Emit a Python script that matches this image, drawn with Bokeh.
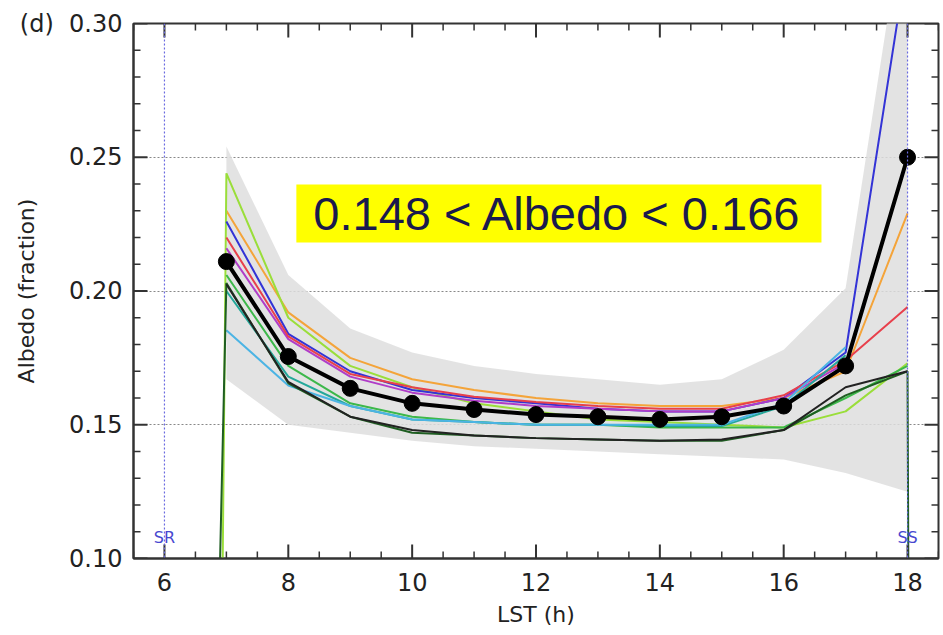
import math
from bokeh.plotting import figure
from bokeh.models import FixedTicker, Span, Label, BoxAnnotation, Range1d
from bokeh.embed import file_html
from bokeh.resources import INLINE

# ---------------- data ----------------
hours = [7, 8, 9, 10, 11, 12, 13, 14, 15, 16, 17, 18]
mean_albedo = [0.211, 0.1755, 0.1636, 0.158, 0.1557, 0.1538, 0.153, 0.152, 0.153, 0.157, 0.172, 0.250]
band_upper = [0.254, 0.206, 0.186, 0.177, 0.172, 0.169, 0.167, 0.165, 0.167, 0.178, 0.201, 0.350]
band_lower = [0.167, 0.150, 0.147, 0.144, 0.142, 0.141, 0.140, 0.139, 0.138, 0.137, 0.132, 0.125]

series = {
    "orange":     ([7, 8, 9, 10, 11, 12, 13, 14, 15, 16, 17, 18],
                   [0.230, 0.192, 0.175, 0.167, 0.163, 0.160, 0.158, 0.157, 0.157, 0.160, 0.170, 0.229]),
    "lime":       ([6.9, 7, 8, 9, 10, 11, 12, 13, 14, 15, 16, 17, 18],
                   [0.0, 0.244, 0.190, 0.172, 0.164, 0.158, 0.155, 0.152, 0.151, 0.150, 0.149, 0.155, 0.173]),
    "blue":       ([7, 8, 9, 10, 11, 12, 13, 14, 15, 16, 17, 18],
                   [0.226, 0.184, 0.170, 0.163, 0.160, 0.158, 0.156, 0.155, 0.155, 0.160, 0.177, 0.325]),
    "magenta":    ([7, 8, 9, 10, 11, 12, 13, 14, 15, 16, 17],
                   [0.216, 0.182, 0.168, 0.162, 0.159, 0.157, 0.156, 0.155, 0.155, 0.160, 0.173]),
    "red":        ([7, 8, 9, 10, 11, 12, 13, 14, 15, 16, 17, 18],
                   [0.220, 0.183, 0.169, 0.164, 0.1605, 0.1585, 0.157, 0.156, 0.156, 0.161, 0.174, 0.194]),
    "green":      ([7, 8, 9, 10, 11, 12, 13, 14, 15, 16, 17, 18],
                   [0.206, 0.172, 0.158, 0.153, 0.151, 0.150, 0.150, 0.149, 0.149, 0.149, 0.160, 0.172]),
    "teal":       ([7, 8, 9, 10, 11, 12, 13, 14, 15, 16, 17],
                   [0.200, 0.168, 0.157, 0.152, 0.151, 0.150, 0.150, 0.1495, 0.1495, 0.157, 0.176]),
    "cyan":       ([7, 8, 9, 10, 11, 12, 13, 14, 15, 16, 17],
                   [0.1853, 0.1647, 0.157, 0.152, 0.151, 0.150, 0.150, 0.150, 0.150, 0.158, 0.179]),
    "darkgreen":  ([6.8, 7, 8, 9, 10, 11, 12, 13, 14, 15, 16, 17, 18, 18.03],
                   [0.0, 0.203, 0.1655, 0.153, 0.147, 0.146, 0.145, 0.1445, 0.144, 0.144, 0.148, 0.161, 0.170, 0.0]),
    "blackthin":  ([7, 8, 9, 10, 11, 12, 13, 14, 15, 16, 17, 18],
                   [0.2025, 0.166, 0.153, 0.148, 0.146, 0.145, 0.1445, 0.144, 0.1445, 0.148, 0.164, 0.170]),
}
series_colors = {
    "orange": "#f4a43a", "lime": "#9ade3a", "blue": "#3333d6", "magenta": "#b03cc8",
    "red": "#e8404c", "green": "#3cb84a", "teal": "#25a89a", "cyan": "#4cb4e4",
    "darkgreen": "#1f5e22", "blackthin": "#222222",
}

x_ticks = [6, 8, 10, 12, 14, 16, 18]
x_tick_labels = ["6", "8", "10", "12", "14", "16", "18"]
y_ticks = [0.10, 0.15, 0.20, 0.25, 0.30]
y_tick_labels = ["0.10", "0.15", "0.20", "0.25", "(d)\u00a0\u00a00.30"]
sunrise, sunset = 6, 18
annotation_text = "0.148 < Albedo < 0.166"

X0, X1, Y0, Y1 = 5.5, 18.5, 0.10, 0.30

# ---------------- figure ----------------
p = figure(frame_width=805, frame_height=535,
           min_border_left=133, min_border_right=5, min_border_top=23, min_border_bottom=77,
           x_range=Range1d(X0, X1), y_range=Range1d(Y0, Y1),
           output_backend="svg", toolbar_location=None,
           background_fill_color="white", border_fill_color="white")

p.outline_line_color = "#333333"
p.outline_line_width = 2
p.xgrid.visible = False
p.ygrid.grid_line_color = "#888888"
p.ygrid.grid_line_dash = "2 2"
p.ygrid.grid_line_width = 1.2

x_minor = [X0 + 0.5 * i for i in range(27)]
y_minor = [round(Y0 + 0.01 * i, 2) for i in range(21)]
xt = FixedTicker(ticks=x_ticks, minor_ticks=x_minor)
yt = FixedTicker(ticks=y_ticks, minor_ticks=y_minor)
p.xaxis.ticker = xt
p.yaxis.ticker = yt
p.ygrid.ticker = yt
p.xaxis.major_label_overrides = dict(zip(x_ticks, x_tick_labels))
p.yaxis.major_label_overrides = dict(zip(y_ticks, y_tick_labels))

p.xaxis.axis_label = "LST (h)"
p.yaxis.axis_label = "Albedo (fraction)"

for ax in p.xaxis + p.yaxis:
    ax.axis_line_width = 2
    ax.axis_line_color = "#333333"
    ax.major_tick_in = 0
    ax.major_tick_out = 0
    ax.minor_tick_in = 0
    ax.minor_tick_out = 0
    ax.major_label_text_font = "DejaVu Sans"
    ax.major_label_text_font_size = "24px"
    ax.major_label_text_color = "#222222"
    ax.axis_label_text_font = "DejaVu Sans"
    ax.axis_label_text_font_size = "22px"
    ax.axis_label_text_font_style = "normal"
    ax.axis_label_text_color = "#222222"
p.xaxis.major_label_standoff = 14
p.xaxis.axis_label_standoff = 8
p.yaxis.major_label_standoff = 11
p.yaxis.axis_label_standoff = -22

# gray band
p.varea(x=hours, y1=band_lower, y2=band_upper, fill_color="#dedede", fill_alpha=0.85)

# sunrise / sunset
for xv in (sunrise, sunset):
    p.add_layout(Span(location=xv, dimension="height", line_color="#6a6ae0",
                      line_dash="2 2", line_width=1.2))

# colored lines
for name, (xs, ys) in series.items():
    p.line(xs, ys, line_color=series_colors[name], line_width=2)

# mean line with dots
p.line(hours, mean_albedo, line_color="black", line_width=4)
p.scatter(hours, mean_albedo, size=16, fill_color="black", line_color="black")

# inward ticks on all four sides (dash markers, half clipped by the frame)
tick_col = "#333333"
xmaj = list(x_ticks)
xmin_ = [t for t in x_minor if t not in x_ticks]
ymaj = list(y_ticks)
ymin_ = [t for t in y_minor if t not in y_ticks]
for edge in (Y0, Y1):
    p.scatter(xmaj, [edge] * len(xmaj), marker="dash", size=28, angle=math.pi / 2,
              line_color=tick_col, line_width=2)
    p.scatter(xmin_, [edge] * len(xmin_), marker="dash", size=14, angle=math.pi / 2,
              line_color=tick_col, line_width=1.5)
for edge in (X0, X1):
    p.scatter([edge] * len(ymaj), ymaj, marker="dash", size=28,
              line_color=tick_col, line_width=2)
    p.scatter([edge] * len(ymin_), ymin_, marker="dash", size=14,
              line_color=tick_col, line_width=1.5)

# SR / SS labels
for xv, txt in ((sunrise, "SR"), (sunset, "SS")):
    p.add_layout(Label(x=xv, y=0.1078, text=txt, text_align="center", text_baseline="middle",
                       text_font="DejaVu Sans", text_font_size="16px", text_color="#4848d0"))

# highlighted annotation
p.add_layout(BoxAnnotation(left=8.13, right=16.61, top=0.2398, bottom=0.2181,
                           fill_color="#ffff00", fill_alpha=1.0, line_color=None))
p.add_layout(Label(x=12.35, y=0.2290, text=annotation_text, text_align="center",
                   text_baseline="middle", text_font="Liberation Sans",
                   text_font_size="47px", text_color="#1a1a4d"))

open("out.html", "w").write(file_html(p, INLINE))
